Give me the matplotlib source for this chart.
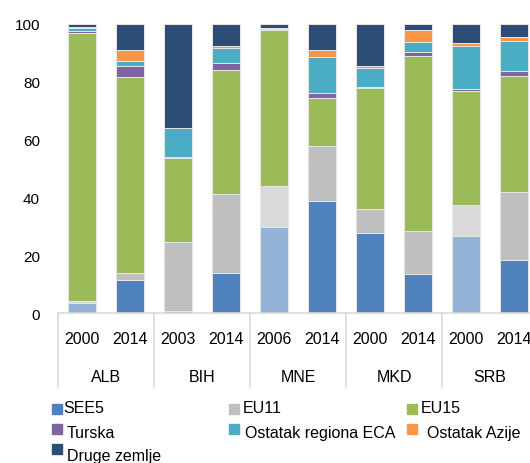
import numpy as np
import matplotlib
matplotlib.use("Agg")
import matplotlib.pyplot as plt
import matplotlib.transforms as mtransforms
from matplotlib.patches import Rectangle

plt.rcParams['font.family'] = ['Liberation Sans', 'DejaVu Sans']

countries = ["ALB", "BIH", "MNE", "MKD", "SRB"]
years = ["2000", "2014", "2003", "2014", "2006", "2014", "2000", "2014", "2000", "2014"]
series = ["SEE5", "EU11", "EU15", "Turska", "Ostatak regiona ECA", "Ostatak Azije", "Druge zemlje"]

see5 = [3.5, 11.3, 0.7, 13.8, 29.8, 38.9, 27.8, 13.6, 26.7, 18.5]
eu11 = [0.8, 2.6, 23.8, 27.4, 14.1, 19.0, 8.3, 14.9, 10.6, 23.4]
eu15 = [92.7, 67.7, 29.0, 42.9, 54.1, 16.5, 41.7, 60.4, 39.5, 40.2]
turska = [0.5, 3.9, 0.4, 2.5, 0.1, 1.8, 0.5, 1.3, 0.6, 1.7]
eca = [1.0, 1.8, 10.0, 5.2, 0.4, 12.5, 6.6, 3.7, 15.0, 10.4]
azija = [0.3, 3.7, 0.1, 0.6, 0.1, 2.3, 0.5, 3.9, 1.0, 1.3]
druge = [1.2, 9.0, 36.0, 7.6, 1.4, 9.0, 14.6, 2.2, 6.6, 4.5]

# bars drawn with faded SEE5 / EU11 colours
faded = [0, 4, 8]

colors = ["#4F81BD", "#BFBFBF", "#9BBB59", "#8064A2", "#4BACC6", "#F79646", "#2C4D75"]
faded_colors = {0: "#95B3D7", 1: "#D9D9D9"}

data = [see5, eu11, eu15, turska, eca, azija, druge]

fig = plt.figure(figsize=(5.3, 4.64), dpi=100)
W, H = 530, 464
ax = fig.add_axes([58 / W, 1 - 314 / H, 480 / W, 289 / H])

x = np.arange(len(years))
bottom = np.zeros(len(years))
for i, vals in enumerate(data):
    cols = [colors[i]] * len(years)
    if i in faded_colors:
        for j in faded:
            cols[j] = faded_colors[i]
    ax.bar(x, vals, width=0.58, bottom=bottom, color=cols,
           edgecolor="#E6E6E6", linewidth=0.7, zorder=2)
    bottom += np.array(vals)

ax.set_xlim(-0.5, 9.5)
ax.set_ylim(0, 100)
ax.set_yticks([0, 20, 40, 60, 80, 100])
ax.tick_params(axis='y', length=0, pad=13, labelsize=11)
ax.set_xticks([])
for s in ["top", "right", "left"]:
    ax.spines[s].set_visible(False)
ax.spines["bottom"].set_color("#D9D9D9")
ax.spines["bottom"].set_linewidth(1.2)

# category axis: separators, years, countries
trans = mtransforms.blended_transform_factory(ax.transData, ax.transAxes)
for b in np.arange(-0.5, 10, 2):
    ax.plot([b, b], [0, -74 / 289], transform=trans, color="#D9D9D9",
            lw=1.2, clip_on=False)
for xi, yr in zip(x, years):
    ax.text(xi, -25 / 289, yr, transform=trans, ha="center", va="center",
            fontsize=11.5)
for k, c in enumerate(countries):
    ax.text(2 * k + 0.5, -63 / 289, c, transform=trans, ha="center",
            va="center", fontsize=11.5)

# legend, laid out in pixel rows like the source
leg_pos = [(52, 409.5, 409), (229, 409.5, 409), (407, 409.5, 409),
           (52, 429.5, 434), (229, 429.5, 434), (407, 429.5, 434),
           (52, 449.5, 457)]
text_dx = [11, 14, 14, 15, 16, 20, 15]
for (px, my, ty), name, col, dx in zip(leg_pos, series, colors, text_dx):
    fig.add_artist(Rectangle((px / W, 1 - (my + 5) / H), 10 / W, 10 / H,
                             transform=fig.transFigure, color=col))
    fig.text((px + dx) / W, 1 - ty / H, name, ha="left", va="center",
             fontsize=11.5)

fig.savefig("out.png", dpi=100)
